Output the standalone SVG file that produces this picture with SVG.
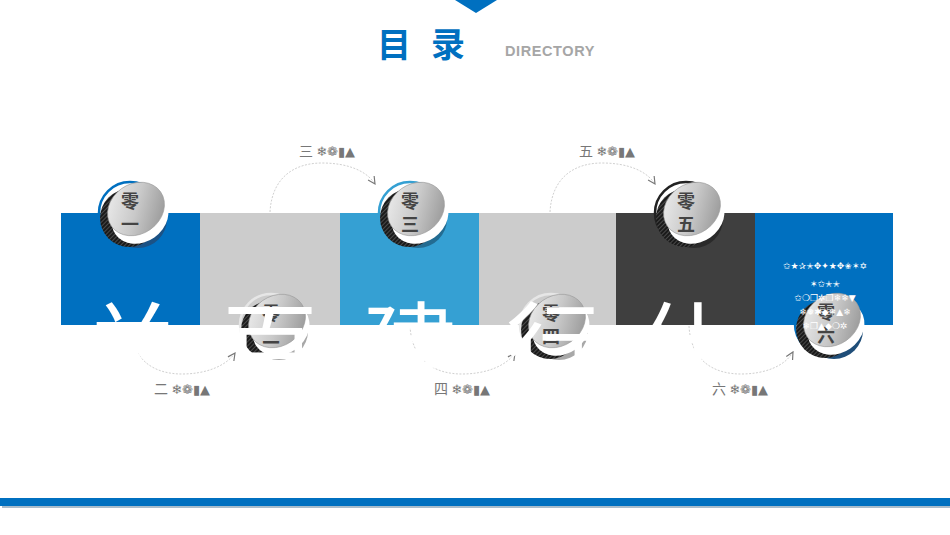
<svg xmlns="http://www.w3.org/2000/svg" width="950" height="535" viewBox="0 0 950 535">
<style>
.title{font-family:"Noto Sans CJK SC","Noto Sans",sans-serif;font-weight:700;font-size:34px;fill:#0070C0}
.dir{font-family:"Liberation Sans","DejaVu Sans",sans-serif;font-weight:700;font-size:14.5px;letter-spacing:0.6px;fill:#A6A6A6}
.lab{font-family:"Noto Sans CJK SC","DejaVu Sans",sans-serif;font-size:14px;fill:#777}
.sym{font-family:"DejaVu Sans",sans-serif;font-size:13px;fill:#777}
.ct{font-family:"Noto Sans CJK SC",sans-serif;font-size:18px;font-weight:700;fill:#444;text-anchor:middle}
.big{font-family:"Noto Sans CJK SC",sans-serif;font-size:95px;fill:#fff;text-anchor:middle}
.tiny{font-family:"DejaVu Sans",sans-serif;font-size:9px;fill:#fff;text-anchor:middle}
.arc{fill:none;stroke:#d0d0d0;stroke-width:1;stroke-dasharray:2 1.5}
</style>
<defs>
<linearGradient id="gz" x1="0" y1="0" x2="1" y2="1">
<stop offset="0" stop-color="#f2f2f2"/><stop offset="0.5" stop-color="#c9c9c9"/><stop offset="1" stop-color="#8c8c8c"/>
</linearGradient>
<pattern id="hatch" width="3" height="3" patternUnits="userSpaceOnUse" patternTransform="rotate(45)">
<rect width="3" height="3" fill="#1a1a1a"/><rect width="1" height="3" fill="#4a4a4a"/>
</pattern>
<marker id="arr" viewBox="0 0 10 10" refX="9" refY="5" markerWidth="9" markerHeight="9" orient="auto" markerUnits="userSpaceOnUse">
<path d="M1,1 L9,5 L1,9" fill="none" stroke="#777" stroke-width="1.3"/>
</marker>
<g id="disc">
<circle cx="-1" cy="4" r="29" fill="url(#hatch)"/>
<ellipse cx="10" cy="3" rx="30" ry="25" transform="rotate(-35 10 3)" fill="#fff"/>
<ellipse cx="6" cy="-5" rx="30" ry="25" transform="rotate(-35 6 -5)" fill="url(#gz)" stroke="#999" stroke-width="0.6"/>
</g>
</defs>
<rect width="950" height="535" fill="#fff"/>
<g id="header">
<polygon points="455,0 497,0 476,13" fill="#0070C0"/>
<text class="title" x="377" y="57">目</text>
<text class="title" x="431" y="57">录</text>
<text class="dir" x="505" y="56">DIRECTORY</text>
</g>
<g id="blocks">
<rect x="61" y="213" width="139" height="112" fill="#0070C0"/>
<rect x="200" y="213" width="140" height="112" fill="#CCCCCC"/>
<rect x="340" y="213" width="139" height="112" fill="#35A0D3"/>
<rect x="479" y="213" width="137" height="112" fill="#CCCCCC"/>
<rect x="616" y="213" width="139" height="112" fill="#3F3F3F"/>
<rect x="755" y="213" width="138" height="112" fill="#0070C0"/>
</g>
<g id="connectors">
<path class="arc" d="M270,212 C272,176 296,163 322,163 C346,163 366,170 375,184" marker-end="url(#arr)"/>
<path class="arc" d="M550,212 C552,176 576,163 602,163 C626,163 646,170 655,184" marker-end="url(#arr)"/>
<path class="arc" d="M130,326 C132,362 156,374 182,374 C206,374 226,366 235,353" marker-end="url(#arr)"/>
<path class="arc" d="M410,326 C412,362 436,374 462,374 C486,374 506,366 515,353" marker-end="url(#arr)"/>
<path class="arc" d="M689,326 C691,362 715,374 741,374 C765,374 785,366 793,352" marker-end="url(#arr)"/>
</g>
<g id="node-01" transform="translate(130,214)">
<circle cx="0" cy="-1" r="31" fill="none" stroke="#0070C0" stroke-width="2.5"/>
<circle cx="8" cy="5" r="29" fill="#1B5285"/>
<use href="#disc"/>
<text class="ct" x="0" y="-6">零</text><text class="ct" x="0" y="17">一</text>
</g>
<g id="node-03" transform="translate(410,214)">
<circle cx="0" cy="-1" r="31" fill="none" stroke="#35A0D3" stroke-width="2.5"/>
<circle cx="8" cy="5" r="29" fill="#236C92"/>
<use href="#disc"/>
<text class="ct" x="0" y="-6">零</text><text class="ct" x="0" y="17">三</text>
</g>
<g id="node-05" transform="translate(686,214)">
<circle cx="0" cy="-1" r="31" fill="none" stroke="#222" stroke-width="2.5"/>
<circle cx="8" cy="5" r="29" fill="#2a2a2a"/>
<use href="#disc"/>
<text class="ct" x="0" y="-6">零</text><text class="ct" x="0" y="17">五</text>
</g>
<g id="node-02" transform="translate(271,326)">
<circle cx="0" cy="-1" r="31" fill="none" stroke="#e6e6e6" stroke-width="2.5"/>
<circle cx="8" cy="5" r="29" fill="#a8a8a8"/>
<use href="#disc"/>
<text class="ct" x="0" y="-6">零</text><text class="ct" x="0" y="17">二</text>
</g>
<g id="node-04" transform="translate(551,326)">
<circle cx="0" cy="-1" r="31" fill="none" stroke="#e6e6e6" stroke-width="2.5"/>
<circle cx="8" cy="5" r="29" fill="#a8a8a8"/>
<use href="#disc"/>
<text class="ct" x="0" y="-6">零</text><text class="ct" x="0" y="17">四</text>
</g>
<g id="node-06" transform="translate(826,325)">
<circle cx="0" cy="-1" r="31" fill="none" stroke="#0070C0" stroke-width="2.5"/>
<circle cx="8" cy="5" r="29" fill="#1F4E79"/>
<use href="#disc"/>
<text class="ct" x="0" y="-6">零</text><text class="ct" x="0" y="17">六</text>
</g>
<g id="big-text">
<text class="big" x="132" y="382">关</text>
<text class="big" x="270" y="382">百</text>
<text class="big" x="410" y="382">建</text>
<text class="big" x="553" y="382">行</text>
<text class="big" x="684" y="382">什</text>
</g>
<g id="labels">
<text x="299" y="156"><tspan class="lab">三 </tspan><tspan class="sym">❄❁▮▲</tspan></text>
<text x="579" y="156"><tspan class="lab">五 </tspan><tspan class="sym">❄❁▮▲</tspan></text>
<text x="154" y="394"><tspan class="lab">二 </tspan><tspan class="sym">❄❁▮▲</tspan></text>
<text x="434" y="394"><tspan class="lab">四 </tspan><tspan class="sym">❄❁▮▲</tspan></text>
<text x="712" y="394"><tspan class="lab">六 </tspan><tspan class="sym">❄❁▮▲</tspan></text>
</g>
<g id="block6-text">
<text class="tiny" x="825" y="269">✩★✰✭✥✦★✥✬✶✡</text>
<text class="tiny" x="825" y="287">✶✩✭✭</text>
<text class="tiny" x="825" y="301">✩❍❐✲❐❄❄▼</text>
<text class="tiny" x="825" y="315">❄❅✱◆❄▲❄</text>
<text class="tiny" x="825" y="329">❄❐▲◆❍✲</text>
</g>
<g id="footer">
<rect x="0" y="498" width="950" height="8" fill="#0070C0"/>
<rect x="2" y="506" width="948" height="2" fill="#A9BCCB"/>
</g>
</svg>
